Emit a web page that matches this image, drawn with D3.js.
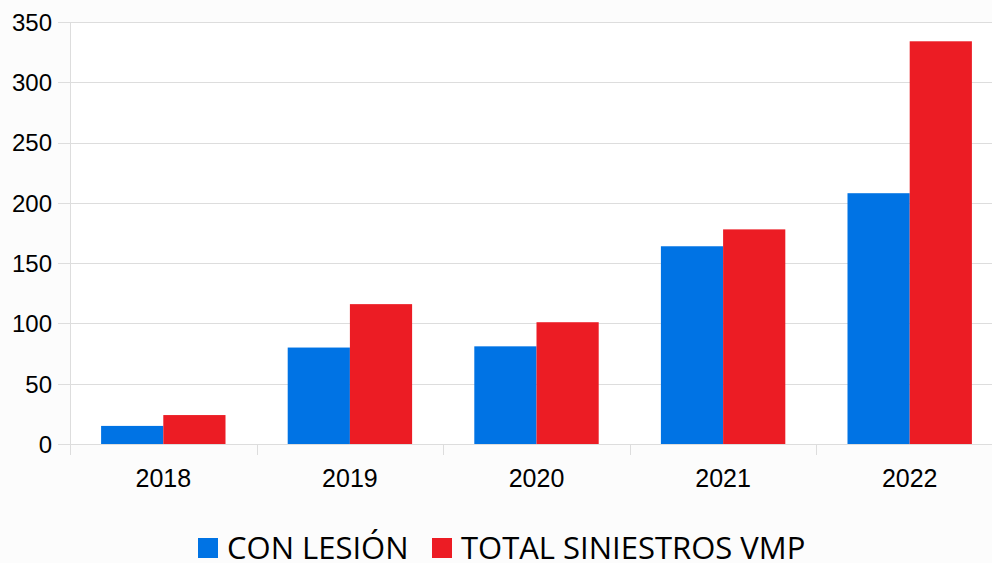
<!DOCTYPE html>
<html>
<head>
<meta charset="utf-8">
<script src="https://cdn.jsdelivr.net/npm/d3@7"></script>
<style>
  body { margin: 0; background: #fcfcfc; }
  svg { display: block; }
</style>
</head>
<body>
<div class="chart"></div>
<script>
// chart data
var years = ["2018", "2019", "2020", "2021", "2022"];
var conLesion = [15, 80, 81, 164, 208];
var totalSiniestros = [24, 116, 101, 178, 334];
var seriesNames = ["CON LESIÓN", "TOTAL SINIESTROS VMP"];
var seriesColors = ["#0073e4", "#ec1c24"];
var yTicks = [0, 50, 100, 150, 200, 250, 300, 350];

var W = 992, H = 563;
var margin = { top: 22, right: -11, bottom: 119, left: 70 };
var width = W - margin.left - margin.right;
var height = H - margin.top - margin.bottom;

var svg = d3.select(".chart").append("svg")
    .attr("width", W)
    .attr("height", H);

var g = svg.append("g")
    .attr("transform", "translate(" + margin.left + "," + margin.top + ")");

// white plot area
g.append("rect")
    .attr("width", width)
    .attr("height", height)
    .attr("fill", "#ffffff");

var x = d3.scaleBand()
    .domain(years)
    .range([0, width]);

var x1 = d3.scaleBand()
    .domain([0, 1])
    .range([x.bandwidth() / 6, x.bandwidth() * 5 / 6]);

var y = d3.scaleLinear()
    .domain([0, 350])
    .range([height, 0]);

//===== grid =====
g.append("g").selectAll("line")
    .data(yTicks)
    .enter().append("line")
    .attr("x1", -12)
    .attr("x2", width)
    .attr("y1", function (d) { return Math.round(y(d)) + 0.5; })
    .attr("y2", function (d) { return Math.round(y(d)) + 0.5; })
    .attr("stroke", "#dddddd")
    .attr("stroke-width", 1);

// category separators
g.append("g").selectAll("line")
    .data(d3.range(years.length + 1))
    .enter().append("line")
    .attr("x1", function (i) { return Math.round(i * x.step()) + 0.5; })
    .attr("x2", function (i) { return Math.round(i * x.step()) + 0.5; })
    .attr("y1", function (i) { return i == 0 ? 0 : height; })
    .attr("y2", height + 11)
    .attr("stroke", "#dddddd");

//===== bars =====
var seriesData = [conLesion, totalSiniestros];
years.forEach(function (yr, i) {
    seriesData.forEach(function (vals, s) {
        g.append("rect")
            .attr("x", x(yr) + x1(s))
            .attr("y", y(vals[i]))
            .attr("width", x1.bandwidth())
            .attr("height", height - y(vals[i]))
            .attr("fill", seriesColors[s]);
    });
});

//===== axis labels =====
g.append("g").selectAll("text")
    .data(yTicks)
    .enter().append("text")
    .attr("x", -18)
    .attr("y", function (d) { return y(d); })
    .attr("dy", "0.37em")
    .attr("text-anchor", "end")
    .style("font-family", "Liberation Sans, Arial, sans-serif")
    .style("font-size", "24px")
    .attr("fill", "#000")
    .text(function (d) { return d; });

g.append("g").selectAll("text")
    .data(years)
    .enter().append("text")
    .attr("x", function (d) { return x(d) + x.bandwidth() / 2; })
    .attr("y", height + 43)
    .attr("text-anchor", "middle")
    .style("font-family", "Liberation Sans, Arial, sans-serif")
    .style("font-size", "25px")
    .attr("fill", "#000")
    .text(function (d) { return d; });

//===== legend =====
var legend = svg.append("g").attr("transform", "translate(0, 548)");
var lx = [198, 432];
seriesNames.forEach(function (name, s) {
    legend.append("rect")
        .attr("x", lx[s])
        .attr("y", -10)
        .attr("width", 20)
        .attr("height", 20)
        .attr("fill", seriesColors[s]);
    legend.append("text")
        .attr("x", lx[s] + 29)
        .attr("y", 11)
        .style("font-family", "Open Sans, sans-serif")
        .style("font-size", "31px")
        .attr("fill", "#000")
        .text(name);
});
</script>
</body>
</html>
